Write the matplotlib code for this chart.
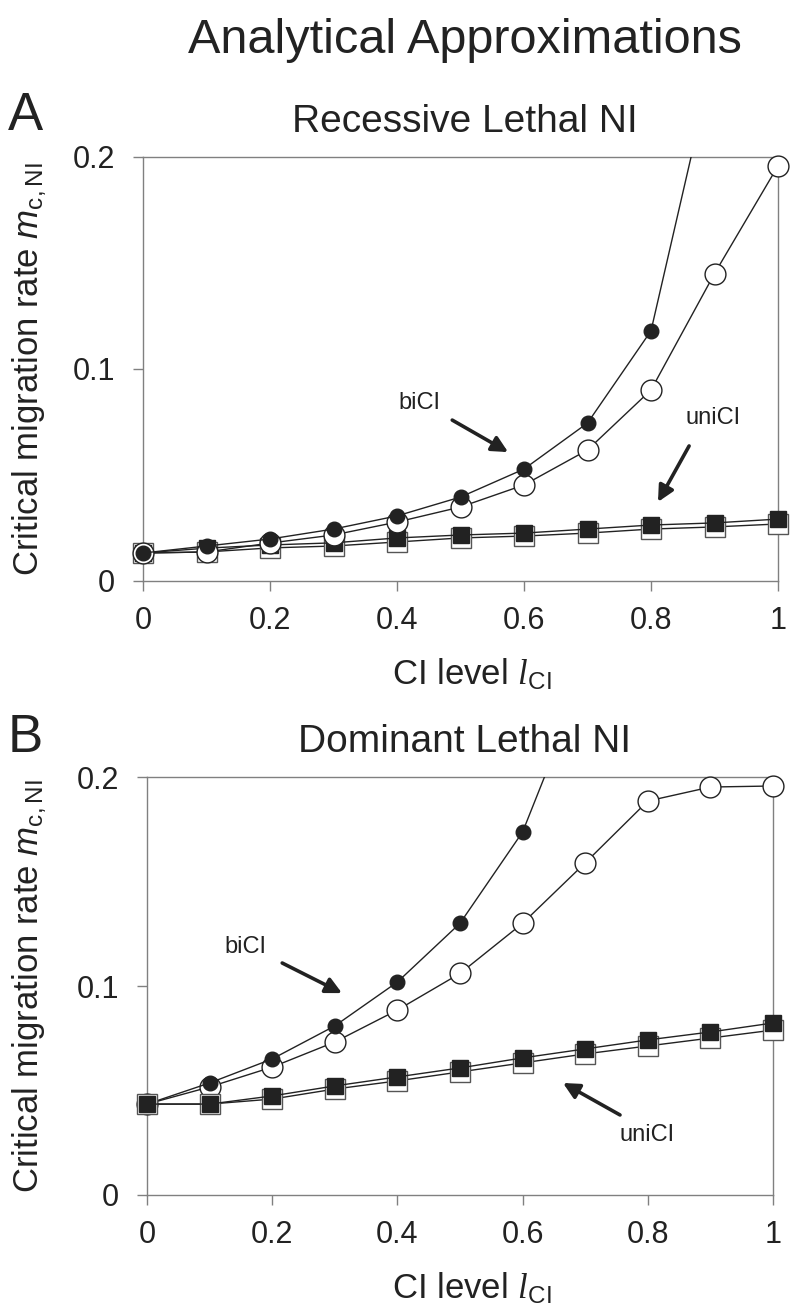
import matplotlib
matplotlib.use("Agg")
import matplotlib.pyplot as plt
import numpy as np

plt.rcParams['font.family'] = ['Liberation Sans', 'DejaVu Sans']
plt.rcParams['mathtext.fontset'] = 'custom'
plt.rcParams['mathtext.rm'] = 'Liberation Sans'
plt.rcParams['mathtext.it'] = 'Liberation Sans:italic'
plt.rcParams['mathtext.cal'] = 'Liberation Serif:italic'

_INK = '#222222'
_SPINE = '#808080'

# CI level
ci_level = [0.0, 0.1, 0.2, 0.3, 0.4, 0.5, 0.6, 0.7, 0.8, 0.9, 1.0]

# panel A - recessive lethal NI
a_bi_filled = [0.0132, 0.0165, 0.0198, 0.0245, 0.0307, 0.0396, 0.0528, 0.0745, 0.118, 0.248]
a_bi_open = [0.0132, 0.0137, 0.0179, 0.0217, 0.0278, 0.0349, 0.0453, 0.0618, 0.0901, 0.145, 0.1958]
a_uni_filled = [0.0132, 0.0155, 0.0170, 0.0180, 0.0203, 0.0217, 0.0226, 0.0245, 0.0264, 0.0274, 0.0292]
a_uni_open = [0.0132, 0.0137, 0.0156, 0.0165, 0.0184, 0.0203, 0.0212, 0.0226, 0.0245, 0.0255, 0.0269]

# panel B - dominant lethal NI
b_bi_filled = [0.0435, 0.0536, 0.0651, 0.0809, 0.1019, 0.130, 0.1737, 0.249]
b_bi_open = [0.0435, 0.0517, 0.0612, 0.0732, 0.0885, 0.106, 0.130, 0.1589, 0.1885, 0.1952, 0.1957]
b_uni_filled = [0.0435, 0.0435, 0.0474, 0.0522, 0.0565, 0.0608, 0.0656, 0.0699, 0.0742, 0.078, 0.0823]
b_uni_open = [0.0435, 0.0435, 0.0459, 0.0507, 0.0546, 0.0589, 0.0632, 0.0675, 0.0713, 0.0751, 0.0789]

x_ticks = [0, 0.2, 0.4, 0.6, 0.8, 1.0]
x_ticklabels = ['0', '0.2', '0.4', '0.6', '0.8', '1']
y_ticks = [0, 0.1, 0.2]
y_ticklabels = ['0', '0.1', '0.2']

W, H = 797, 1314


def _series(ax, ys, marker, ms, face, edge, z):
    xs = np.array(ci_level[:len(ys)])
    ys = np.array(ys)
    ax.plot(xs, ys, '-', color=_INK, lw=1.0, zorder=z)
    inside = ys <= 0.2
    ax.plot(xs[inside], ys[inside], linestyle='none', marker=marker, ms=ms,
            mfc=face, mec=edge, mew=1.0, clip_on=False, zorder=z + 0.5)


def _arrow(ax, tail, head):
    ax.annotate('', xy=head, xytext=tail,
                arrowprops=dict(arrowstyle='-|>', lw=2.6, color=_INK,
                                mutation_scale=24, shrinkA=0, shrinkB=0))


def make_panel(ax, uni_open, uni_filled, bi_open, bi_filled, squares_on_top=False):
    zs = 7 if squares_on_top else 3
    zc = 3 if squares_on_top else 7
    _series(ax, uni_open, 's', 15, 'white', '#555555', zs)
    _series(ax, uni_filled, 's', 11.5, _INK, _INK, zs + 1)
    _series(ax, bi_open, 'o', 15, 'white', _INK, zc)
    _series(ax, bi_filled, 'o', 10.5, _INK, _INK, zc + 1)

    ax.set_xlim(0, 1)
    ax.set_ylim(0, 0.2)
    ax.set_xticks(x_ticks)
    ax.set_xticklabels(x_ticklabels)
    ax.set_yticks(y_ticks)
    ax.set_yticklabels(y_ticklabels)
    ax.tick_params(direction='out', length=7, width=1, color=_SPINE,
                   labelsize=22, labelcolor=_INK)
    ax.tick_params(axis='y', pad=13)
    ax.tick_params(axis='x', pad=11)
    for sp in ax.spines.values():
        sp.set_color(_SPINE)
        sp.set_linewidth(1.0)
        sp.set_zorder(1)


fig = plt.figure(figsize=(W / 100, H / 100), dpi=100)

ax_a = fig.add_axes([143 / W, 1 - 581 / H, 635 / W, 424 / H])
ax_b = fig.add_axes([147 / W, 1 - 1195 / H, 626 / W, 418 / H])

make_panel(ax_a, a_uni_open, a_uni_filled, a_bi_open, a_bi_filled)
make_panel(ax_b, b_uni_open, b_uni_filled, b_bi_open, b_bi_filled, squares_on_top=True)

# annotations
ax_a.text(0.435, 0.084, 'biCI', fontsize=17, color=_INK, ha='center', va='center')
_arrow(ax_a, (0.487, 0.0759), (0.575, 0.0608))
ax_a.text(0.898, 0.0769, 'uniCI', fontsize=17, color=_INK, ha='center', va='center')
_arrow(ax_a, (0.860, 0.0637), (0.811, 0.0373))

ax_b.text(0.158, 0.1187, 'biCI', fontsize=17, color=_INK, ha='center', va='center')
_arrow(ax_b, (0.216, 0.111), (0.3115, 0.0966))
ax_b.text(0.799, 0.0287, 'uniCI', fontsize=17, color=_INK, ha='center', va='center')
_arrow(ax_b, (0.7556, 0.0383), (0.6645, 0.0536))

# figure level text
fig.text(465 / W, 1 - 53 / H, 'Analytical Approximations', fontsize=35,
         color=_INK, ha='center', va='baseline')
fig.text(8 / W, 1 - 130 / H, 'A', fontsize=38, color=_INK, ha='left', va='baseline')
fig.text(465 / W, 1 - 132 / H, 'Recessive Lethal NI', fontsize=28,
         color=_INK, ha='center', va='baseline')
fig.text(8 / W, 1 - 752 / H, 'B', fontsize=38, color=_INK, ha='left', va='baseline')
fig.text(465 / W, 1 - 752 / H, 'Dominant Lethal NI', fontsize=28,
         color=_INK, ha='center', va='baseline')

ylab = r'Critical migration rate $m_{\mathrm{c,NI}}$'
xlab = r'CI level $\mathcal{l}_{\mathrm{CI}}$'
fig.text(30 / W, 1 - 369 / H, ylab, fontsize=25, color=_INK, rotation=90,
         ha='center', va='center')
fig.text(30 / W, 1 - 986 / H, ylab, fontsize=25, color=_INK, rotation=90,
         ha='center', va='center')
fig.text(472 / W, 1 - 684 / H, xlab, fontsize=25, color=_INK, ha='center', va='baseline')
fig.text(472 / W, 1 - 1298 / H, xlab, fontsize=25, color=_INK, ha='center', va='baseline')

fig.savefig('out.png', dpi=100)
